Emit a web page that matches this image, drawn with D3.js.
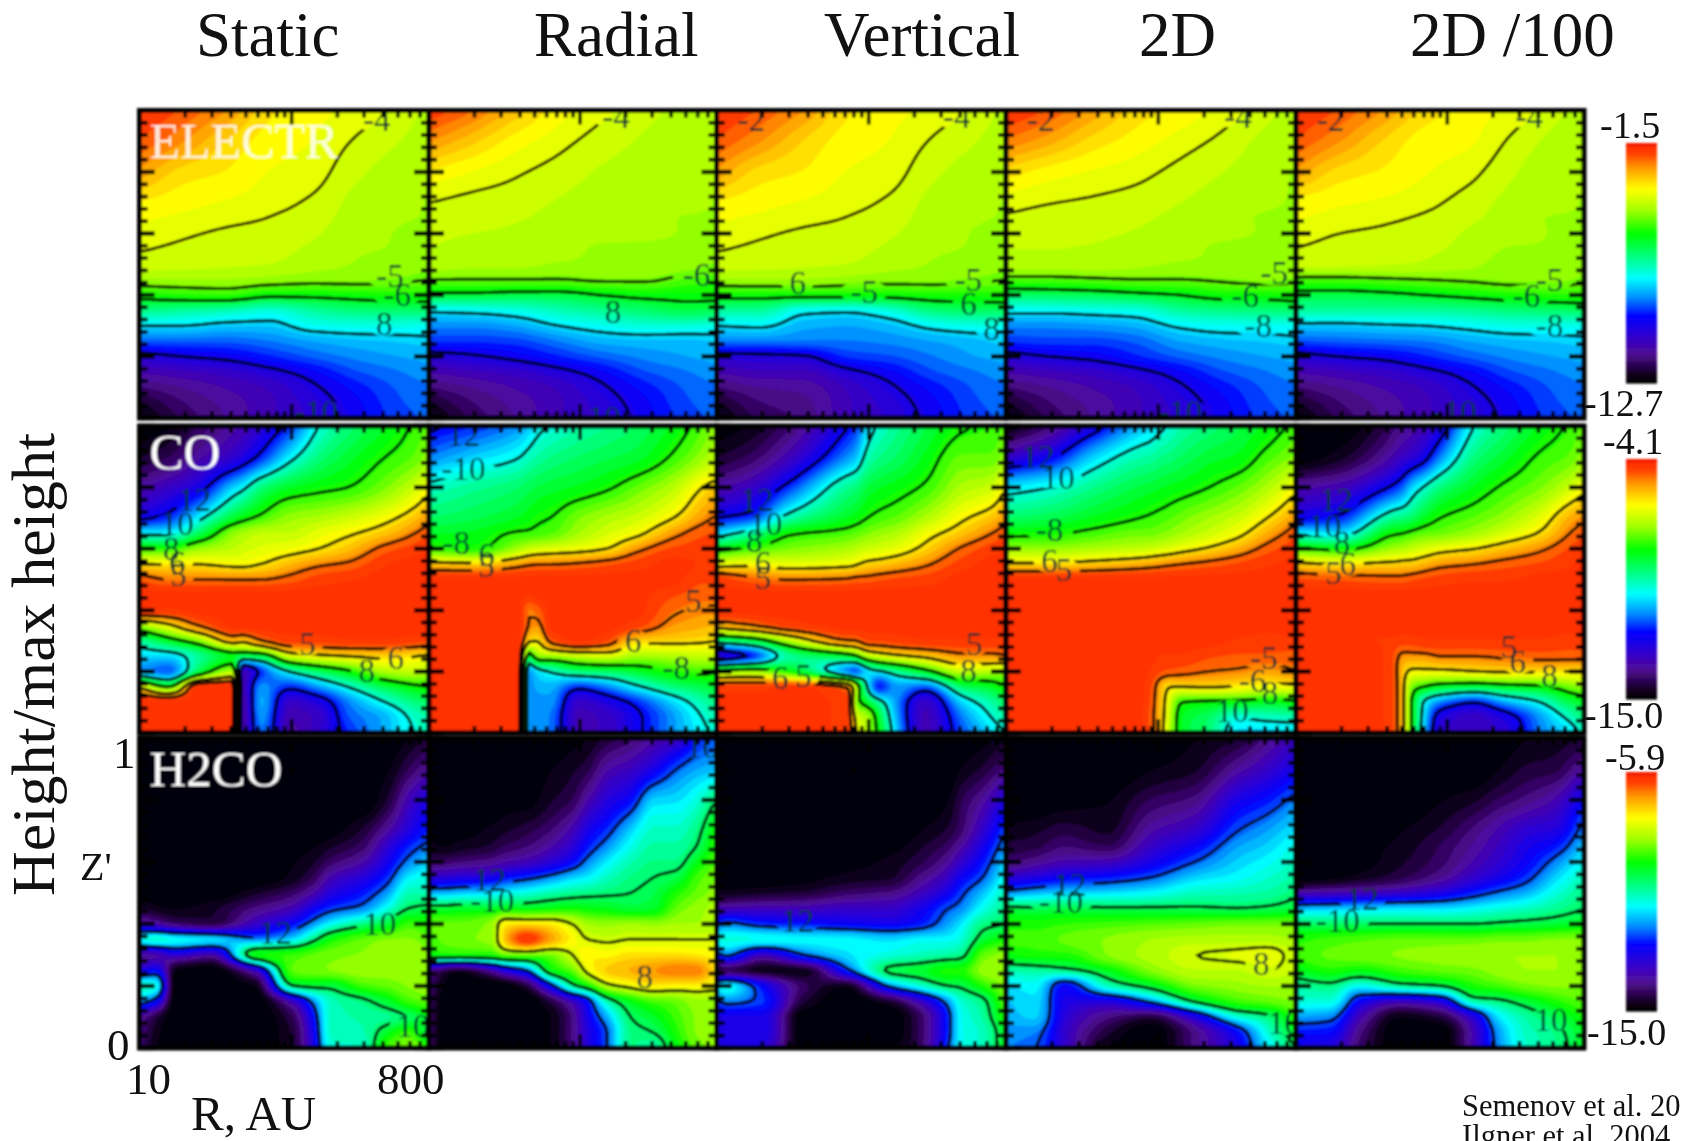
<!DOCTYPE html>
<html><head><meta charset="utf-8">
<script src="https://cdn.jsdelivr.net/npm/d3@7"></script>
<style>html,body{margin:0;background:#fff}svg{display:block}text{font-family:"Liberation Serif","Times New Roman",serif}</style>
</head><body><svg id="c" width="1682" height="1141"></svg>
<script>
// Values below: -10 x log10(abundance), per radial column, top (Z'=1) to bottom (Z'=0).
const zRows=[1,.9,.8,.7,.65,.6,.55,.5,.45,.4,.35,.3,.25,.2,.15,.1,.05,0];
const titles=["Static","Radial","Vertical","2D","2D /100"];
const species=["ELECTR","CO","H2CO"];
const ranges=[[-12.7,-1.5],[-15,-4.1],[-15,-5.9]];
const levelsElectr=[-4,-5,-6,-8,-10], levelsCO=[-5,-6,-8,-10,-12], levelsH2CO=[-8,-10,-12];

const electrX=[0,.15,.3,.45,.6,.75,.9,1];
const electr_static=[
[17,21,27,35,37,38.2,39.7,41.5,46,57,68,80,90,103,110,116,122,126],
[21,26,33,36.5,38,39.5,40.7,42,46,55,70,80,90,100,108,113,116,118],
[26,32,34.8,37.7,39.2,40.5,41.5,42.5,46,54,72,82,90,98,106,110,112,113],
[34,36,37.5,39,40.1,41,42,43,47,58,75,82,88,94,102,107,108,108],
[36.5,37.5,38.7,40.6,41.6,42.6,43.6,44.6,48,58,70,77,85,90,97,101,103,104],
[38.2,40.4,42.4,44,44.5,45,45.5,46,48,57,67,76,83,87,91,95,97,98],
[41,43,44.5,45,45.5,46,46,47,49,56,66,76,82,85,88,90,91,92],
[44,45,45,46,46,47,47,48,50,56,66,77,81,84,86,88,89,90]];
const electr_radial=[
[18,26,35,40,41.2,42.2,43,44,50,62,79,87,93,103,110,116,122,126],
[23,31,37.5,41,42,43,44,45,50,62,78,87,93,101,108,113,116,118],
[30,36,39.5,41.7,42.7,43.5,44,45,50,63,76,85,92,98,106,110,112,113],
[36,38.9,41.3,43.3,44,44.5,45,46,50,63,72,80,88,94,102,107,108,108],
[39.2,41.4,43.4,44.5,45,45.3,46,46,49,60,69,77,84,90,97,101,103,104],
[42,43.5,44.5,45,45,45.5,46,46,49,58,66,75,83,87,91,95,97,98],
[44,45,45,45,46,46,46,47,52,58,63,75,83,85,88,90,91,92],
[45,45,45,46,46,47,47,49,53,58,64,76,82,84,86,88,89,90]];
const electr_vertical=[
[17,21,27,35,37,38.2,39.7,41.5,46,57,70,80,88,103,110,116,122,126],
[21,26,33,36.5,38,39.5,40.7,42,46,57,70,79,88,102,108,113,116,118],
[26,32,34.8,37.7,39.2,40.5,41.5,42.5,46,57,78,84,88,101,108,112,114,115],
[34,36,37.5,39,40.1,41,42,43,47,57,79,85,88,93,102,107,108,108],
[36.5,37.5,38.7,40.6,41.6,42.6,43.6,44.6,48,57,75,83,87,91,97,101,103,104],
[38.2,40.4,42.4,44,44.5,45,45.5,46,48,56,67,78,85,88,91,95,97,98],
[41,43,44.5,45,45.5,46,46,47,49,56,65,76,83,85,88,90,91,92],
[44,45,45,46,46,47,47,48,50,56,65,77,81,84,86,88,89,90]];
const electr_2d=[
[17,24,33,39,40.4,42,43,44,52,66,78,87,93,103,110,116,122,126],
[21,28,36,39.9,41,42,43,44,52,65,78,87,92,100,108,113,116,118],
[27,33,37.7,40.5,41.5,42.5,43.3,44,51,64,77,86,92,98,106,110,112,113],
[33,36,39,41.3,42.3,43.3,44,45,50,62,76,84,90,94,102,107,108,108],
[35.5,38.5,41,43,44,45,45.3,46,50,60,70,79,85,90,97,101,103,104],
[38.3,40.9,43,44.5,45,45.5,46,46,49,57,68,77,83,87,91,95,97,98],
[42,44,45,45.5,46,46,46,47,48,57,67,77,82,85,88,90,91,92],
[45,45,46,46,46,47,47,47,49,56,66,77,81,84,86,88,89,90]];
const electr_2d100=[
[17,21,27,35.7,37.2,38.7,40.1,41.5,52,63,70,82,91,103,110,116,122,126],
[21,26,33,37,38.5,40,41,42,52,63,70,82,90,100,108,113,116,118],
[26,32,35,37.9,39.4,40.6,41.6,42.6,51,62,70,81,89,98,106,110,112,113],
[33,36,37.2,39.2,40.5,41.5,42.4,43.4,50,60,70,80,88,94,102,107,108,108],
[36,37,39,41.4,42.4,43.4,44,45,49,58,69,78,85,90,97,101,103,104],
[38,40.6,42.6,44,44.5,45,46,47,48,56,67,76,83,87,91,95,97,98],
[42,44,45,45,46,46,46,47,48,55,66,76,82,85,88,90,91,92],
[45,45,45,46,46,47,47,48,49,55,65,77,81,84,86,88,89,90]];

const coStaticX=[0,.1,.2,.33,.35,.42,.52,.62,.72,.85,.95,1];
const co_static=[
[150,145,135,122,102,80,60,47,43,43,72,95,105,110,60,42,42,42],
[148,142,130,117,102,80,60,50,43,44,62,85,105,115,80,42,42,42],
[142,135,124,103,90,72,60,50,43,43,50,75,95,90,42,42,42,42],
[135,128,105,85,72,68,62,50,43,43,43,55,85,70,42,42,42,42],
[134,126,103,83,71,67,62,50,43,43,43,58,90,135,135,138,138,138],
[128,118,92,78,68,65,60,50,43,43,43,50,88,118,110,108,110,112],
[118,103,85,72,68,63,55,48,43,43,43,45,66,100,118,130,133,135],
[100,92,82,70,64,60,51,45,43,43,43,45,62,90,110,125,130,128],
[92,86,80,67,61,56,49,44,43,43,43,44,60,82,100,112,115,118],
[85,80,74,62,56,48,44,43,43,43,43,44,58,70,88,100,108,108],
[79,76,67,56,50,45,43,43,43,43,43,45,60,68,82,92,98,100],
[76,72,62,52,47,44,43,43,43,43,43,46,62,70,80,90,95,95]];
const coRadialX=[0,.15,.32,.34,.38,.42,.52,.62,.72,.85,.95,1];
const co_radial=[
[122,112,98,90,85,79,57,43,43,43,43,43,43,43,43,43,43,43],
[118,106,94,88,84,81,58,43,43,43,43,43,43,43,43,43,43,43],
[110,100,90,84,79,70,52,43,43,43,43,43,43,43,43,43,43,43],
[108,98,89,83,79,68,51,43,44,50,50,58,90,112,112,112,112,112],
[102,95,87,81,78,66,50,43,43,48,52,60,72,104,108,110,110,110],
[100,93,86,80,77,65,50,43,43,43,43,48,72,100,108,110,112,112],
[96,90,84,74,71,63,49,43,43,43,43,43,68,92,118,130,132,132],
[93,88,81,70,66,60,47,43,43,43,43,46,66,90,112,125,130,130],
[90,86,76,67,62,52,45,43,43,43,45,58,71,86,102,118,122,122],
[84,79,69,60,52,46,43,43,46,49,52,58,70,80,92,105,110,110],
[77,72,60,52,47,45,44,46,48,51,54,59,68,78,88,96,100,102],
[72,68,57,49,46,45,45,46,48,51,55,60,68,80,86,92,96,98]];
const coVerticalX=[0,.12,.25,.46,.48,.52,.56,.62,.72,.85,.95,1];
const co_vertical=[
[150,145,135,120,105,83,64,44,43,43,55,95,130,75,45,43,43,43],
[147,141,130,116,95,78,62,48,43,43,50,88,120,72,45,43,43,43],
[140,132,117,96,81,74,64,50,43,43,45,70,95,82,43,43,43,43],
[120,110,93,84,77,70,62,49,43,43,43,50,85,115,50,45,45,45],
[118,108,92,83,76,69,61,48,43,43,43,50,82,118,68,75,65,60],
[105,97,87,80,74,67,58,48,43,43,43,46,70,105,100,85,70,70],
[99,93,85,78,72,66,57,47,43,43,43,46,66,102,120,95,85,82],
[94,90,83,76,70,64,55,46,43,43,43,45,62,95,110,110,108,105],
[88,84,79,70,63,58,51,45,43,43,43,44,58,84,115,130,132,132],
[81,76,70,61,56,49,45,43,43,43,43,44,52,68,90,105,112,115],
[79,76,67,56,50,45,43,43,43,43,43,44,52,70,85,95,100,105],
[76,72,60,52,47,44,43,43,43,43,43,45,50,72,80,90,95,100]];
const co2dX=[0,.15,.3,.46,.5,.53,.56,.6,.7,.8,.9,1];
const co_2d=[
[150,130,104,90,82,72,59,43,43,43,43,43,43,43,43,43,43,43],
[140,122,100,88,81,72,59,43,43,43,43,43,43,43,43,43,43,43],
[125,106,93,84,78,70,57,43,43,43,43,43,43,43,43,43,43,43],
[108,96,87,80,75,68,54,43,43,43,43,43,43,43,43,43,43,43],
[105,95,86,79,75,67,53,43,43,43,43,43,43,44,46,47,48,48],
[102,93,85,78,74,66,52,43,43,43,43,43,44,46,54,55,55,55],
[100,92,84,77,73,65,51,43,43,43,43,43,44,47,60,64,66,68],
[96,90,83,75,71,63,50,43,43,43,43,43,44,48,60,80,84,84],
[92,86,80,71,67,59,48,43,43,43,43,43,46,50,59,82,90,92],
[88,84,76,67,62,54,46,43,43,43,43,44,47,51,61,83,100,105],
[84,78,70,60,54,48,44,43,43,43,43,45,47,53,63,85,98,106],
[78,73,62,52,47,44,43,43,43,43,43,44,48,50,63,82,97,105]];
const co2d100X=[0,.15,.32,.34,.37,.4,.44,.5,.62,.72,.85,.95,1];
const co_2d100=[
[150,150,135,122,102,79,58,46,43,43,43,43,43,43,43,43,43,43],
[150,146,132,118,104,82,60,47,43,43,43,43,43,43,43,43,43,43],
[142,135,120,95,82,72,58,48,43,43,43,44,44,44,44,44,44,44],
[140,133,118,93,81,71,58,48,43,43,43,44,47,47,47,47,47,47],
[138,130,114,92,80,70,57,48,43,43,43,45,52,56,56,56,56,56],
[136,128,106,90,78,68,57,47,43,43,43,45,52,62,75,80,80,80],
[133,124,100,85,76,66,55,46,43,43,43,44,52,62,80,100,102,104],
[126,112,92,80,75,63,52,45,43,43,43,44,50,62,85,112,125,128],
[100,92,84,76,71,60,50,44,43,43,43,44,50,60,88,120,130,130],
[92,86,79,72,66,56,48,44,43,43,43,44,49,59,85,110,125,128],
[84,79,74,64,59,51,46,43,43,43,43,44,48,59,82,100,110,112],
[79,76,67,54,50,46,44,43,43,43,43,45,48,60,75,88,98,105],
[76,72,62,51,47,44,43,43,43,43,43,45,48,60,72,85,92,98]];

const h2coStaticX=[0,.06,.12,.25,.4,.53,.6,.66,.77,.86,.93,1];
const h2co_static=[
[150,150,150,150,150,150,150,150,145,135,108,140,130,105,115,138,140,142],
[150,150,150,150,150,150,150,150,147,138,105,138,125,108,125,145,147,148],
[150,150,150,150,150,150,150,150,148,142,108,132,148,150,150,150,150,150],
[150,150,150,150,150,150,150,150,146,145,110,138,150,150,150,150,150,150],
[150,150,150,150,150,150,150,146,140,133,118,92,135,148,150,150,150,150],
[150,150,150,150,149,148,147,142,135,125,112,90,88,100,135,143,145,145],
[150,150,150,150,148,146,143,137,127,117,102,88,87,98,118,125,128,130],
[150,150,150,149,146,142,136,130,122,110,93,87,86,98,106,106,106,108],
[150,150,150,145,142,137,130,124,118,102,88,86,85,90,102,104,105,107],
[150,148,145,137,131,127,122,116,108,97,86,84,85,88,96,103,95,88],
[148,143,135,129,123,118,111,105,100,90,86,84,85,86,90,100,90,85],
[145,138,128,122,118,113,108,105,98,92,88,86,85,85,88,95,100,90]];
const h2coRadialX=[0,.05,.1,.22,.26,.34,.42,.5,.55,.62,.7,.78,.86,.93,1];
const h2co_radial=[
[150,150,150,148,147,142,132,115,97,88,90,94,138,140,140,140,140,140],
[150,150,150,149,148,142,131,115,97,88,88,92,145,148,150,150,150,150],
[150,150,150,149,147,141,130,114,96,88,87,92,148,150,150,150,150,150],
[150,150,150,147,145,139,128,112,96,85,85,92,138,150,150,150,150,150],
[150,150,149,146,143,137,125,110,95,75,72,88,130,150,150,150,150,150],
[150,150,149,144,141,135,122,108,95,74,60,88,120,145,150,150,150,150],
[150,148,146,141,137,131,118,105,94,75,68,88,95,125,145,148,148,148],
[149,146,143,135,131,125,113,103,93,80,76,80,88,102,135,140,140,140],
[148,144,137,128,124,118,111,102,94,84,80,75,78,95,125,128,130,130],
[145,137,130,122,117,111,106,101,95,85,81,76,72,82,105,115,120,120],
[142,134,125,113,109,105,102,100,97,84,80,74,70,78,95,100,102,102],
[138,128,113,106,104,102,100,98,96,85,80,74,68,75,90,96,100,105],
[135,120,112,106,104,102,98,92,88,84,80,74,66,76,88,90,92,95],
[125,116,108,102,100,95,90,88,85,84,80,75,66,76,85,86,86,88],
[120,114,100,92,90,88,86,85,83,83,80,76,75,78,85,85,85,85]];
const h2coVerticalX=[0,.03,.16,.3,.45,.6,.7,.8,.84,.92,1];
const h2co_vertical=[
[150,150,150,150,150,150,150,147,137,122,108,125,148,112,122,128,128,128],
[150,150,150,150,150,150,150,147,136,118,108,118,145,108,118,128,128,128],
[150,150,150,150,150,150,150,146,135,123,108,135,148,125,122,128,128,130],
[150,150,150,150,150,150,149,145,135,124,110,120,148,142,145,150,150,150],
[150,150,150,150,150,149,147,142,133,126,110,112,122,148,150,150,150,150],
[150,150,150,150,149,147,146,140,133,127,112,108,98,118,146,150,150,148],
[150,150,150,148,146,144,140,135,128,124,110,106,96,108,135,143,143,143],
[150,150,148,145,142,138,133,127,120,116,110,104,92,100,117,123,123,120],
[150,148,144,142,138,133,127,122,118,112,108,103,92,99,108,110,110,110],
[149,145,138,132,128,124,120,114,109,102,97,88,85,92,102,104,106,106],
[146,140,128,120,116,112,108,105,102,100,92,85,84,85,87,90,95,95]];
const h2co2dX=[0,.1,.2,.35,.5,.65,.8,.9,1];
const h2co_2d=[
[150,150,150,147,145,142,132,118,98,92,90,94,105,112,114,115,117,118],
[150,150,150,146,144,139,129,115,99,92,90,92,104,110,112,113,118,120],
[150,150,149,144,141,136,126,113,98,91,88,92,102,126,128,130,132,132],
[150,150,148,146,143,135,124,112,99,90,86,86,95,106,130,140,145,148],
[150,148,143,137,133,128,120,110,99,89,84,83,86,97,118,145,150,150],
[148,146,140,132,126,120,113,106,99,88,83,80,82,87,99,130,140,140],
[146,138,128,120,116,113,110,105,100,87,83,79,82,85,90,108,125,128],
[140,133,124,116,113,110,107,104,99,87,83,78,80,84,88,102,108,112],
[134,127,118,111,108,106,104,101,97,87,84,82,82,84,86,90,95,100]];
const h2co2d100X=[0,.12,.22,.36,.5,.62,.7,.8,.9,1];
const h2co_2d100=[
[150,150,150,150,150,150,150,137,115,100,92,90,96,104,108,116,124,128],
[150,150,150,150,150,150,149,136,114,100,90,88,92,102,108,118,125,130],
[150,150,150,150,149,149,147,135,113,100,89,87,94,110,126,135,140,142],
[150,150,150,148,147,146,144,133,112,100,88,86,90,103,135,148,150,150],
[150,150,148,145,143,142,139,129,112,100,88,85,88,100,130,145,150,150],
[150,150,146,140,138,136,132,123,110,100,88,84,87,92,104,130,135,135],
[150,148,143,136,134,132,128,119,108,99,87,84,85,90,102,112,117,118],
[148,145,140,131,128,126,122,115,106,98,87,84,84,87,97,104,106,107],
[147,144,136,129,124,118,113,108,103,97,86,84,84,86,92,99,102,103],
[146,137,125,117,113,109,105,102,100,95,86,85,85,86,88,92,95,96]];

// Contour labels by row then column: text, log-R fraction, Z'
const labels=[[
 [["-5",.865,.46],["-6",.89,.40],["8",.845,.305],["-4",.82,.97],["-10",.61,.02]],
 [["8",.64,.345],["-6",.93,.465],["-4",.65,.98],["-10",.59,.0]],
 [["6",.28,.44],["-5",.51,.41],["-5",.87,.45],["6",.87,.37],["8",.95,.29],["-2",.12,.97],["-4",.83,.98]],
 [["-5",.925,.47],["-6",.825,.395],["-8",.87,.30],["-4",.8,.98],["-2",.12,.97],["-10",.6,.02]],
 [["-5",.88,.45],["-6",.80,.395],["-8",.88,.30],["-4",.81,.98],["-2",.12,.97],["-10",.55,.02]]
],[
 [["12",.19,.76],["10",.13,.68],["8",.11,.60],["6",.13,.555],["5",.135,.515],["5",.58,.29],["6",.885,.245],["8",.785,.2]],
 [["12",.12,.97],["-10",.12,.86],["-8",.095,.62],["6",.2,.58],["5",.2,.545],["5",.92,.43],["6",.71,.30],["-8",.86,.21]],
 [["12",.14,.76],["10",.17,.68],["8",.13,.625],["6",.16,.555],["5",.16,.505],["5",.89,.29],["8",.87,.2],["6",.22,.18],["5",.3,.185]],
 [["12",.11,.9],["10",.18,.83],["-8",.15,.66],["6",.15,.56],["5",.2,.53],["-5",.89,.245],["-6",.85,.17],["8",.91,.13],["10",.78,.07]],
 [["12",.14,.76],["10",.1,.675],["8",.16,.62],["6",.18,.55],["5",.13,.52],["5",.74,.28],["6",.77,.23],["8",.88,.185]]
],[
 [["12",.47,.37],["10",.83,.40],["10",.945,.07]],
 [["12",.21,.54],["-10",.22,.475],["8",.75,.23],["10",.95,.97]],
 [["12",.28,.41]],
 [["12",.22,.525],["-10",.19,.47],["8",.88,.27],["10",.96,.08]],
 [["12",.23,.48],["-10",.145,.41],["10",.885,.09]]
]];

const panels=[
 [[electrX,electr_static],[electrX,electr_radial],[electrX,electr_vertical],[electrX,electr_2d],[electrX,electr_2d100]],
 [[coStaticX,co_static],[coRadialX,co_radial],[coVerticalX,co_vertical],[co2dX,co_2d],[co2d100X,co_2d100]],
 [[h2coStaticX,h2co_static],[h2coRadialX,h2co_radial],[h2coVerticalX,h2co_vertical],[h2co2dX,h2co_2d],[h2co2d100X,h2co_2d100]]
];
const rowLevels=[levelsElectr,levelsCO,levelsH2CO];

// layout
const colEdges=[139.5,429,716.6,1006,1296,1584];
const rowEdges=[[110.5,418],[426,733],[738,1048]];
const barX=[1626,1657], barY=[[143,383],[459,699],[772,1011]];
const W=96,H=102;

const stops=[0,.03,.125,.2,.28,.36,.44,.53,.625,.72,.81,.9,.96,.99,1];
const cols=["#000000","#0c0014","#500a96","#3000d0","#0000ff","#0090ff","#00ffff","#00ff80","#00ff00","#a0ff00","#ffff00","#ff9900","#ff3c00","#ff3000","#e00000"];
const ramp=d3.scaleLinear().domain(stops).range(cols).clamp(true);

const svg=d3.select("#c");
const defs=svg.append("defs");
defs.append("filter").attr("id","soft").attr("x","-5%").attr("y","-5%").attr("width","110%").attr("height","110%")
  .append("feGaussianBlur").attr("stdDeviation",0.8);
const root=svg.append("g").attr("filter","url(#soft)");

// monotone cubic resampling of one profile
function monotone(px,py){
  const n=px.length,h=[],d=[],m=new Array(n);
  for(let k=0;k<n-1;k++){h[k]=px[k+1]-px[k];d[k]=(py[k+1]-py[k])/h[k];}
  m[0]=d[0];m[n-1]=d[n-2];
  for(let k=1;k<n-1;k++){
    if(d[k-1]*d[k]<=0)m[k]=0;
    else{const a=2*h[k]+h[k-1],b=h[k]+2*h[k-1];m[k]=(a+b)/(a/d[k-1]+b/d[k]);}
  }
  return q=>{
    const k=Math.min(n-2,Math.max(0,d3.bisectRight(px,q)-1));
    const s=(q-px[k])/h[k],s2=s*s,s3=s2*s;
    return (2*s3-3*s2+1)*py[k]+(s3-2*s2+s)*h[k]*m[k]+(-2*s3+3*s2)*py[k+1]+(s3-s2)*h[k]*m[k+1];
  };
}
function field(xs,colsData){
  const zAsc=zRows.slice().reverse();
  colsData.forEach(c=>{if(c.length!==zRows.length)console.error("bad column length",c);});
  const byZ=colsData.map(c=>monotone(zAsc,c.slice().reverse()));
  const out=new Float64Array(W*H);
  for(let j=0;j<H;j++){
    const z=1-(j+.5)/H;
    const f=monotone(xs,byZ.map(g=>g(z)));
    for(let i=0;i<W;i++)out[j*W+i]=-f((i+.5)/W)/10;
  }
  const src=out.slice();
  for(let j=0;j<H;j++)for(let i=0;i<W;i++){
    let s=0,n=0;
    for(let dj=-1;dj<=1;dj++)for(let di=-1;di<=1;di++){
      const yy=j+dj,xx=i+di;
      if(xx>=0&&xx<W&&yy>=0&&yy<H){s+=src[yy*W+xx];n++;}
    }
    out[j*W+i]=s/n;
  }
  return out;
}

species.forEach((sp,ri)=>{
  const [vmin,vmax]=ranges[ri];
  const y=d3.scaleLinear().domain([0,1]).range([rowEdges[ri][1],rowEdges[ri][0]]);
  const tOf=d3.scaleLinear().domain([vmin,vmax]).range([0,1]);
  const thresholds=d3.range(vmin,vmax,(vmax-vmin)/40);
  titles.forEach((t,ci)=>{
    const [xs,data]=panels[ri][ci];
    const x=d3.scaleLog().domain([10,800]).range([colEdges[ci],colEdges[ci+1]]);
    const u=d3.scaleLinear().domain([0,1]).range([colEdges[ci],colEdges[ci+1]]);
    const id=`p${ri}_${ci}`;
    defs.append("clipPath").attr("id",id).append("rect")
      .attr("x",colEdges[ci]).attr("y",rowEdges[ri][0])
      .attr("width",colEdges[ci+1]-colEdges[ci]).attr("height",rowEdges[ri][1]-rowEdges[ri][0]);
    const g=root.append("g").attr("clip-path",`url(#${id})`);
    const vals=field(xs,data);
    const gx=d3.scaleLinear().domain([0,W]).range(u.range());
    const gy=d3.scaleLinear().domain([0,H]).range(y.range().slice().reverse());
    const path=d3.geoPath(d3.geoTransform({point(a,b){this.stream.point(gx(a),gy(b));}}));
    g.append("rect").attr("x",colEdges[ci]).attr("y",rowEdges[ri][0])
      .attr("width",colEdges[ci+1]-colEdges[ci]).attr("height",rowEdges[ri][1]-rowEdges[ri][0])
      .attr("fill",ramp(0));
    const cg=d3.contours().size([W,H]).thresholds(thresholds)(vals);
    g.selectAll("path.f").data(cg).join("path").attr("class","f")
      .attr("d",path).attr("fill",d=>ramp(tOf(d.value+(vmax-vmin)/80)))
      .attr("stroke",d=>ramp(tOf(d.value+(vmax-vmin)/80))).attr("stroke-width",.6);
    // gaps in contour lines behind labels
    const mid=`m${ri}_${ci}`;
    const lab=labels[ri][ci];
    const mask=defs.append("mask").attr("id",mid).attr("maskUnits","userSpaceOnUse")
      .attr("x",0).attr("y",0).attr("width",1682).attr("height",1141);
    mask.append("rect").attr("width",1682).attr("height",1141).attr("fill","#fff");
    mask.selectAll("ellipse").data(lab).join("ellipse")
      .attr("cx",d=>u(d[1])).attr("cy",d=>y(d[2])).attr("rx",d=>8+d[0].length*8).attr("ry",12).attr("fill","#000");
    const lines=d3.contours().size([W,H]).thresholds(rowLevels[ri])(vals);
    g.append("g").attr("mask",`url(#${mid})`).selectAll("path").data(lines).join("path")
      .attr("d",path).attr("fill","none").attr("stroke","#000").attr("stroke-width",3);
    g.selectAll("text.l").data(lab).join("text").attr("class","l")
      .attr("x",d=>u(d[1])).attr("y",d=>y(d[2])).attr("dy","0.33em").attr("text-anchor","middle")
      .attr("font-size",33).attr("fill","#06302c").text(d=>d[0]);
    // ticks
    const tk=root.append("g").attr("stroke","#000");
    const zT=d3.range(0,1.001,.04).map(v=>+v.toFixed(2));
    const isMajor=v=>Math.abs(v*5-Math.round(v*5))<1e-6;
    [[colEdges[ci],1],[colEdges[ci+1],-1]].forEach(([ex,s])=>{
      tk.append("g").selectAll("line").data(zT).join("line")
        .attr("x1",ex).attr("x2",d=>ex+s*(isMajor(d)?15:8)).attr("y1",d=>y(d)).attr("y2",d=>y(d))
        .attr("stroke-width",d=>isMajor(d)?4.4:3.8);
    });
    const rT=x.ticks(20).filter(r=>r>=10&&r<=800);
    rowEdges[ri].forEach((ey,k)=>{
      const s=k===0?1:-1;
      tk.append("g").selectAll("line").data(rT).join("line")
        .attr("x1",d=>x(d)).attr("x2",d=>x(d)).attr("y1",ey).attr("y2",d=>ey+s*(d===100?14:7))
        .attr("stroke-width",3.6);
    });
    root.append("rect").attr("x",colEdges[ci]).attr("y",rowEdges[ri][0])
      .attr("width",colEdges[ci+1]-colEdges[ci]).attr("height",rowEdges[ri][1]-rowEdges[ri][0])
      .attr("fill","none").attr("stroke","#000").attr("stroke-width",5);
  });
  // species label
  const fsx=colEdges[0]+10;
  root.append("text").attr("x",fsx).attr("y",[158,469,786][ri]).attr("font-size",ri===0?50:51)
    .attr("fill","#fff").attr("fill-opacity",ri===0?.85:1).text(sp);
  // colour bar
  const bar=d3.scaleLinear().domain([vmin,vmax]).range([barY[ri][1],barY[ri][0]]);
  const bv=d3.range(vmin,vmax,(vmax-vmin)/80);
  root.append("g").selectAll("rect").data(bv).join("rect")
    .attr("x",barX[0]).attr("width",barX[1]-barX[0])
    .attr("y",d=>bar(d+(vmax-vmin)/80)).attr("height",d=>bar(d)-bar(d+(vmax-vmin)/80)+.6)
    .attr("fill",d=>ramp(tOf(d+(vmax-vmin)/160)));
});

// texts
const text=(s,x,yy,fs,a)=>svg.append("text").attr("x",x).attr("y",yy).attr("font-size",fs)
  .attr("text-anchor",a||"start").attr("fill","#111").text(s);
const titleX=[196,534,824,1139,1410];
titles.forEach((t,i)=>text(t,titleX[i],56,63));
svg.append("text").attr("transform","translate(54,896) rotate(-90)").attr("font-size",62).attr("fill","#111").text("Height/max height");
text("1",113,768,45);text("0",107,1060,45);text("Z'",80,880,40);
text("10",126,1094,45);text("800",377,1094,45);
text("R, AU",191,1130,49);
const barLabels=[["-1.5","-12.7"],["-4.1","-15.0"],["-5.9","-15.0"]];
const barLabelY=[[138,416],[454,728],[770,1045]];
const barLabelX=[[1600,1584],[1603,1584],[1605,1587]];
barLabels.forEach((p,i)=>p.forEach((s,k)=>text(s,barLabelX[i][k],barLabelY[i][k],38)));
text("Semenov et al. 20",1462,1116,30.5);
text("Ilgner et al. 2004",1462,1146,30.5);
</script></body></html>
